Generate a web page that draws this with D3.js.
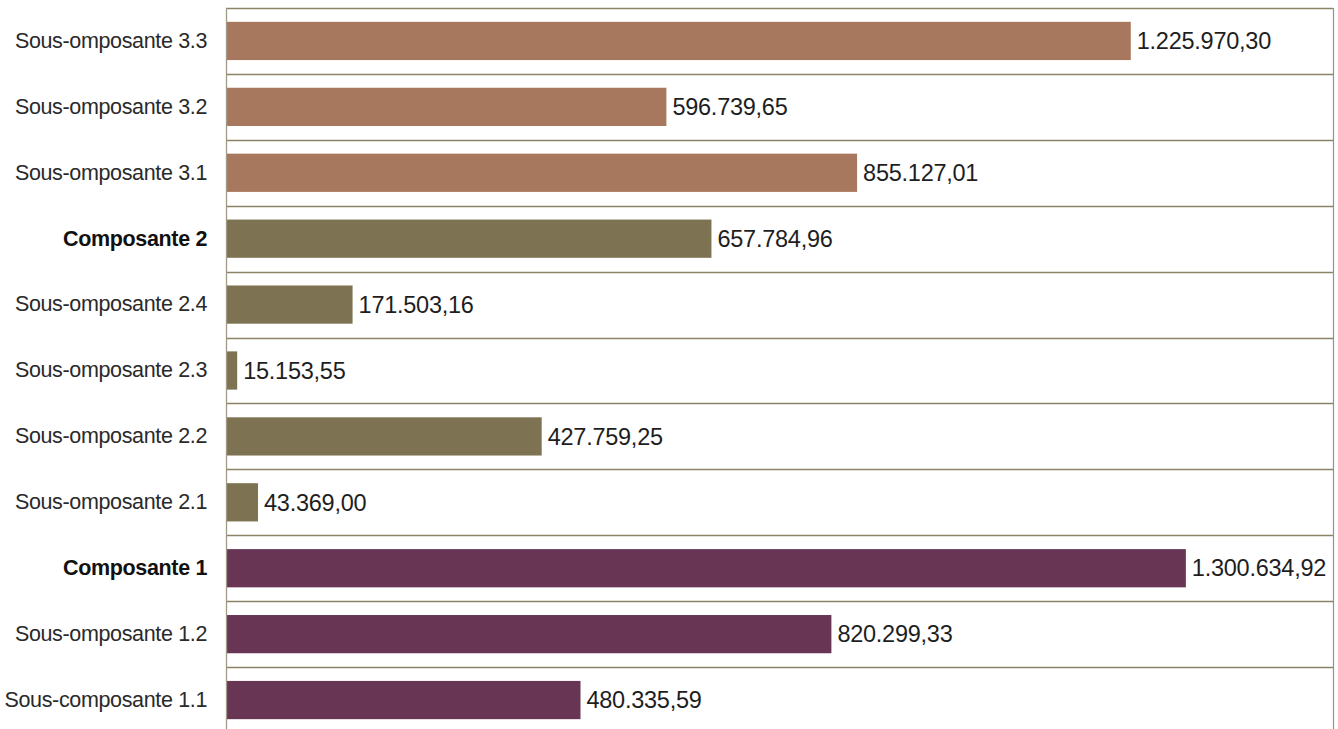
<!DOCTYPE html>
<html>
<head>
<meta charset="utf-8">
<script src="https://cdn.jsdelivr.net/npm/d3@7"></script>
<style>
  html, body { margin: 0; padding: 0; background: #ffffff; }
  svg { display: block; font-family: "Liberation Sans", Arial, sans-serif; }
</style>
</head>
<body>
<svg id="chart" width="1338" height="729"></svg>
<script>
// Budget per component / sub-component (top row first)
const categories = [
  "Sous-omposante 3.3",
  "Sous-omposante 3.2",
  "Sous-omposante 3.1",
  "Composante 2",
  "Sous-omposante 2.4",
  "Sous-omposante 2.3",
  "Sous-omposante 2.2",
  "Sous-omposante 2.1",
  "Composante 1",
  "Sous-omposante 1.2",
  "Sous-composante 1.1"
];
const values = [
  1225970.30,
  596739.65,
  855127.01,
  657784.96,
  171503.16,
  15153.55,
  427759.25,
  43369.00,
  1300634.92,
  820299.33,
  480335.59
];
const groups = ["c3", "c3", "c3", "c2", "c2", "c2", "c2", "c2", "c1", "c1", "c1"];
const headings = ["Composante 2", "Composante 1"];

const groupColors = { c3: "#a8785e", c2: "#7d7352", c1: "#683555" };

const svg = d3.select("#chart");
const W = 1338;
const margin = { top: 8, right: 5, bottom: -4, left: 226 };
const plotBottom = 729 - margin.bottom;

const x = d3.scaleLinear()
  .domain([0, 1500000])
  .range([margin.left, W - margin.right]);

const pad = 0.42;
const y = d3.scaleBand()
  .domain(categories)
  .range([margin.top, plotBottom])
  .paddingInner(pad)
  .paddingOuter(pad / 2);

const gap = (y.step() - y.bandwidth()) / 2;

// Row separators
const lineColor = "#8c8366";
const boundaries = [margin.top].concat(categories.map(c => y(c) + y.bandwidth() + gap));
svg.append("g")
  .selectAll("line")
  .data(boundaries)
  .join("line")
  .attr("x1", margin.left)
  .attr("x2", W - margin.right)
  .attr("y1", d => Math.round(d) + 0.5)
  .attr("y2", d => Math.round(d) + 0.5)
  .attr("stroke", lineColor)
  .attr("stroke-width", 1.3);

// Right frame edge
svg.append("line")
  .attr("x1", W - margin.right + 0.5).attr("x2", W - margin.right + 0.5)
  .attr("y1", margin.top).attr("y2", 729)
  .attr("stroke", "#9a937c").attr("stroke-width", 1.2);

// Bars
const rows = categories.map((c, i) => ({ cat: c, value: values[i], group: groups[i] }));

svg.append("g")
  .selectAll("rect")
  .data(rows)
  .join("rect")
  .attr("x", x(0))
  .attr("y", d => y(d.cat))
  .attr("width", d => x(d.value) - x(0))
  .attr("height", y.bandwidth())
  .attr("fill", d => groupColors[d.group]);

// Category axis
const yAxis = svg.append("g")
  .attr("transform", `translate(${margin.left},0)`)
  .call(d3.axisLeft(y).tickSize(0).tickPadding(19));
yAxis.select(".domain")
  .attr("stroke", "#a09a86")
  .attr("stroke-width", 1.3)
  .attr("d", `M0.5,${margin.top}V729`);
yAxis.selectAll(".tick text")
  .attr("font-family", "'Liberation Sans', Arial, sans-serif")
  .attr("font-size", 21.5)
  .attr("letter-spacing", "-0.35")
  .attr("fill", d => headings.includes(d) ? "#111111" : "#2a2a2a")
  .attr("font-weight", d => headings.includes(d) ? "bold" : "normal");

// Value labels (French-style number format)
const fr = d3.formatLocale({ decimal: ",", thousands: ".", grouping: [3], currency: ["", " €"] });
const fmt = fr.format(",.2f");

svg.append("g")
  .selectAll("text")
  .data(rows)
  .join("text")
  .attr("x", d => x(d.value) + 6)
  .attr("y", d => y(d.cat) + y.bandwidth() / 2)
  .attr("dy", "0.35em")
  .attr("font-size", 23.5)
  .attr("letter-spacing", "-0.25")
  .attr("fill", "#1e1e1e")
  .text(d => fmt(d.value));
</script>
</body>
</html>
